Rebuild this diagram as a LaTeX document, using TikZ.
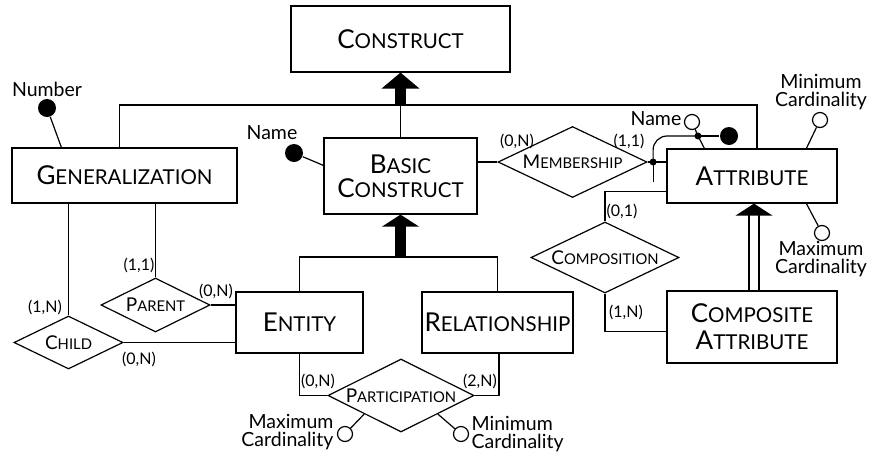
\documentclass[tikz,border=0pt]{standalone}
\usepackage{fontspec}
\setmainfont{Lato}
\usetikzlibrary{shapes.geometric,calc}
\newcommand\BX[2]{{\fontsize{26}{26}\selectfont #1}{\fontsize{20.5}{20.5}\selectfont #2}}
\newcommand\DM[2]{{\fontsize{19}{19}\selectfont #1}{\fontsize{14.8}{14.8}\selectfont #2}}
\begin{document}
\begin{tikzpicture}[x=1pt,y=-1pt,line width=1.2pt,
  ent/.style={draw,inner sep=0pt,align=center,font=\fontsize{26}{25}\selectfont},
  rel/.style={draw,diamond,inner sep=0pt},
  dot/.style={circle,fill,inner sep=0pt,minimum size=18pt},
  odot/.style={circle,draw,fill=white,inner sep=0pt,minimum size=15pt},
  jdot/.style={circle,fill,inner sep=0pt,minimum size=7pt},
  lab/.style={inner sep=0pt,font=\fontsize{19.5}{19.5}\selectfont},
  lab2/.style={inner sep=0pt,align=center,font=\fontsize{19.5}{18}\selectfont},
  card/.style={inner sep=0pt,font=\fontsize{16}{16}\selectfont}]
\useasboundingbox (0,0) rectangle (873,456);
% entities
\node[ent,minimum width=219pt,minimum height=66pt] (construct) at (400.5,39) {\BX{C}{ONSTRUCT}};
\node[ent,minimum width=225pt,minimum height=55pt] (gen) at (124.5,175.5) {\BX{G}{ENERALIZATION}};
\node[ent,minimum width=153pt,minimum height=76pt,font=\fontsize{26}{24}\selectfont] (basic) at (400.5,176) {\BX{B}{ASIC}\\\BX{C}{ONSTRUCT}};
\node[ent,minimum width=170pt,minimum height=54pt] (attr) at (752,176) {\BX{A}{TTRIBUTE}};
\node[ent,minimum width=127pt,minimum height=61pt] (entity) at (299.5,322.5) {\BX{E}{NTITY}};
\node[ent,minimum width=151pt,minimum height=61pt] (relship) at (497.5,322.5) {\BX{R}{ELATIONSHIP}};
\node[ent,minimum width=170pt,minimum height=72pt,font=\fontsize{26}{27}\selectfont] (comp) at (752,327) {\BX{C}{OMPOSITE}\\\BX{A}{TTRIBUTE}};
% relationships
\node[rel,minimum width=149pt,minimum height=71pt] (memb) at (572.5,162) {\makebox[0pt]{\DM{M}{EMBERSHIP}}};
\node[rel,minimum width=148pt,minimum height=71pt] (compo) at (605,257.5) {\makebox[0pt]{\DM{C}{OMPOSITION}}};
\node[rel,minimum width=109pt,minimum height=54pt] (parent) at (155.5,305) {\makebox[0pt]{\DM{P}{ARENT}}};
\node[rel,minimum width=109pt,minimum height=53pt] (child) at (68.5,342.5) {\makebox[0pt]{\DM{C}{HILD}}};
\node[rel,minimum width=146pt,minimum height=73pt] (part) at (401,395.5) {\makebox[0pt]{\DM{P}{ARTICIPATION}}};
% generalization: construct
\coordinate (hubA) at (400.5,105);
\coordinate (genTop) at ($(gen.north west)+(108,0)$);
\coordinate (attrTop) at ($(attr.north)+(5,0)$);
\draw (genTop) -- (genTop |- hubA) -- (attrTop |- hubA) -- (attrTop);
\draw (hubA) -- (basic.north);
\fill ($(construct.south)+(-19,16)$) -- (construct.south) -- ($(construct.south)+(19,16)$) -- cycle;
\fill ($(construct.south)+(-5.5,15)$) rectangle ($(hubA)+(5.5,0)$);
% generalization: basic construct
\coordinate (hubB) at (400.5,257);
\draw (entity.north) -- (entity.north |- hubB) -- (relship.north |- hubB) -- (relship.north);
\fill ($(basic.south)+(-18.5,12)$) -- (basic.south) -- ($(basic.south)+(18.5,12)$) -- cycle;
\fill ($(basic.south)+(-5.5,11)$) rectangle ($(hubB)+(5.5,0)$);
% generalization: composite attribute
\fill ($(attr.south)+(2,0)$) -- ($(attr.south)+(-16.5,12)$) -- ($(attr.south)+(20.5,12)$) -- cycle;
\draw ($(comp.north)+(-3,0)$) -- ($(attr.south)+(-3,11)$);
\draw ($(comp.north)+(7,0)$) -- ($(attr.south)+(7,11)$);
% membership
\draw (memb.west) -- (memb.west -| basic.east);
\coordinate (J) at ($(memb.east)+(5.5,0)$);
\coordinate (K) at (698,136);
\draw (memb.east) -- (memb.east -| attr.west);
\draw (J) -- ($(J)+(0,20)$);
\draw[rounded corners=14pt] (J) |- (K);
\node[jdot] (jd) at (J) {};
\node[jdot] (kd) at (K) {};
\node[dot] (idname) at (729,136) {};
\node[odot] (nameA) at (692,122) {};
\draw (K) -- (idname);
\draw (K) -- (nameA);
\draw (K) -- ($(attr.north west)+(38,0)$);
% attribute attributes
\node[odot] (minA) at (820,120) {};
\node[odot] (maxA) at (822,233) {};
\draw (minA) -- ($(attr.north west)+(140,0)$);
\draw (maxA) -- ($(attr.south west)+(140,0)$);
% composition
\draw (compo.north) |- ($(attr.south west)+(0,-12)$);
\draw (compo.south) |- ($(comp.south west)+(0,-32)$);
% parent / child
\draw (parent.north) -- (parent.north |- gen.south);
\draw (parent.east) -- (parent.east -| entity.west);
\draw (child.north) -- (child.north |- gen.south);
\draw (child.east) -- (child.east -| entity.west);
% participation
\draw (entity.south) |- (part.west);
\draw ($(relship.south)+(1.5,0)$) |- (part.east);
\node[odot] (maxP) at (345,434) {};
\node[odot] (minP) at (461,434) {};
\draw (maxP) -- ($(part.west)!0.5!(part.south)$);
\draw (minP) -- ($(part.south)!0.5!(part.east)$);
% other attributes
\node[dot] (numdot) at (47,108) {};
\draw (numdot) -- ($(gen.north west)+(50,0)$);
\node[dot] (namedot) at (294,153) {};
\draw (namedot) -- ($(basic.north west)+(0,28)$);
% labels
\node[lab] (lnum) at (47,89) {Number};
\node[lab] (lname1) at (272,133) {Name};
\node[lab] (lname2) at (656,119) {Name};
\node[lab2] (lminA) at (821,92) {Minimum\\Cardinality};
\node[lab2] (lmaxA) at (821,259) {Maximum\\Cardinality};
\node[lab2,align=right,anchor=east] (lmaxP) at (334,432) {Maximum\\Cardinality};
\node[lab2,align=left,anchor=west] (lminP) at (471,434) {Minimum\\Cardinality};
% cardinalities
\node[card] at (517,141) {(0,N)};
\node[card] at (629,141) {(1,1)};
\node[card] at (139,265) {(1,1)};
\node[card] at (216,291) {(0,N)};
\node[card] at (45,307) {(1,N)};
\node[card] at (139,359) {(0,N)};
\node[card] at (318,381) {(0,N)};
\node[card] at (480,381) {(2,N)};
\node[card] at (622,211) {(0,1)};
\node[card] at (626,312) {(1,N)};
\end{tikzpicture}
\end{document}
